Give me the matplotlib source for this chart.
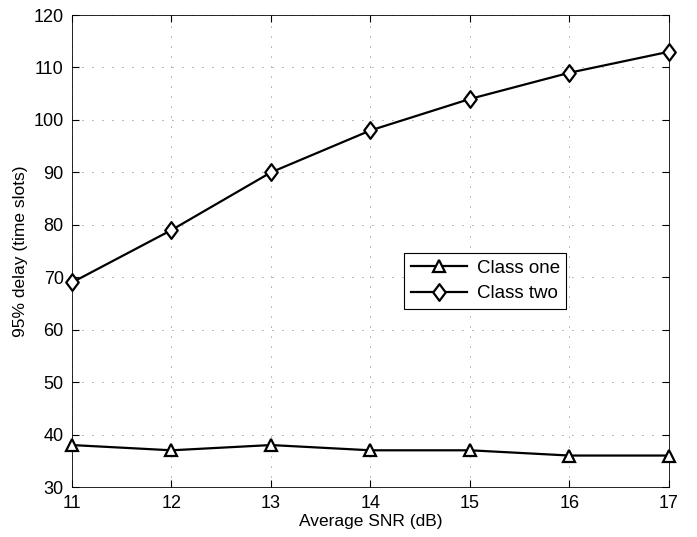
import matplotlib
matplotlib.use("Agg")
import matplotlib.pyplot as plt
from matplotlib.path import Path

snr = [11, 12, 13, 14, 15, 16, 17]
class_one = [38, 37, 38, 37, 37, 36, 36]
class_two = [69, 79, 90, 98, 104, 109, 113]

plt.rcParams['font.family'] = ['Liberation Sans', 'DejaVu Sans']

# matlab style diamond, a bit wider than 'd'
diamond = Path([(0, 1), (0.75, 0), (0, -1), (-0.75, 0), (0, 1)],
               [Path.MOVETO, Path.LINETO, Path.LINETO, Path.LINETO, Path.CLOSEPOLY])

fig = plt.figure(figsize=(6.97, 5.37), dpi=100)
ax = fig.add_axes([0.1033, 0.0931, 0.8565, 0.8789])

ax.plot(snr, class_one, color='black', lw=1.6, marker='^', ms=9,
        mfc='white', mec='black', mew=1.6, label='Class one', clip_on=False, zorder=3)
ax.plot(snr, class_two, color='black', lw=1.6, marker=diamond, ms=12,
        mfc='white', mec='black', mew=1.6, label='Class two', clip_on=False, zorder=3)

ax.set_xlim(11, 17)
ax.set_ylim(30, 120)
ax.set_xticks(snr)
ax.set_yticks(range(30, 121, 10))
ax.grid(True, linestyle=(0, (1, 11)), color='#444444', lw=0.6)
ax.tick_params(direction='in', top=True, right=True, labelsize=13, length=5, pad=6)
for s in ax.spines.values():
    s.set_linewidth(0.6)

ax.set_xlabel('Average SNR (dB)', fontsize=12.5, labelpad=1)
ax.set_ylabel('95% delay (time slots)', fontsize=12.5, labelpad=4)

leg = ax.legend(loc='lower left', bbox_to_anchor=(0.541, 0.358), fontsize=13.5,
                fancybox=False, edgecolor='black', framealpha=1,
                handlelength=3, borderpad=0.35, labelspacing=0.45, handletextpad=0.5)
leg.get_frame().set_linewidth(0.8)

fig.savefig('out.png', dpi=100)
